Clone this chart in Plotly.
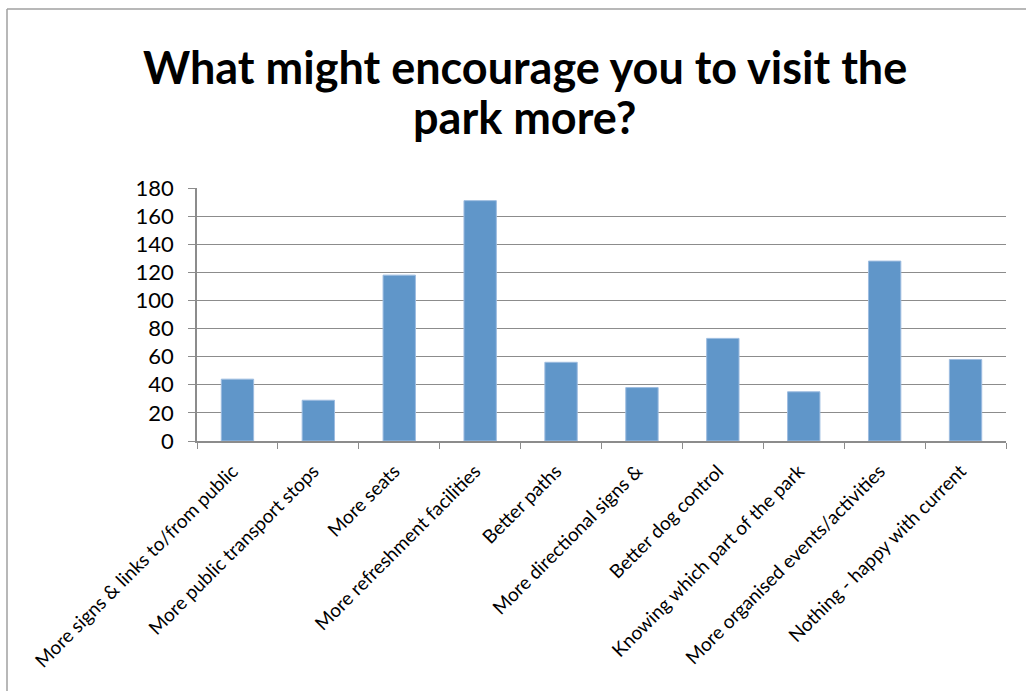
import plotly.graph_objects as go

categories = [
    "More signs & links to/from public",
    "More public transport stops",
    "More seats",
    "More refreshment facilities",
    "Better paths",
    "More directional signs &",
    "Better dog control",
    "Knowing which part of the park",
    "More organised events/activities",
    "Nothing - happy with current",
]
values = [44, 29, 118, 171, 56, 38, 73, 35, 128, 58]
y_ticks = [0, 20, 40, 60, 80, 100, 120, 140, 160, 180]
title_lines = ["What might encourage you to visit the", "park more?"]

W, H = 1026, 691
ML, MR, MT, MB = 197, 20, 188, 250
pw = W - ML - MR
ph = H - MT - MB


def px_x(x):
    return (x - ML) / pw


def px_y(y):
    return 1 + (MT - y) / ph


fig = go.Figure()
fig.add_trace(go.Bar(
    x=categories, y=values,
    marker=dict(color="#6096C9", line=dict(color="#9DBCE0", width=1)),
))

border = "#a0a0a0"
bx = px_x(7)
by = px_y(9)
fig.add_shape(type="line", xref="paper", yref="paper", x0=bx, x1=bx, y0=-2, y1=by,
              line=dict(color=border, width=1.5))
fig.add_shape(type="line", xref="paper", yref="paper", x0=bx, x1=2, y0=by, y1=by,
              line=dict(color=border, width=1.5))

for line, (cx, cy) in zip(title_lines, [(525, 67), (524, 117)]):
    fig.add_annotation(
        text="<b>" + line + "</b>", xref="paper", yref="paper",
        x=px_x(cx), y=px_y(cy), xanchor="center", yanchor="middle",
        showarrow=False, font=dict(family="Lato", size=45, color="black"),
    )

fig.update_layout(
    width=W, height=H,
    margin=dict(l=ML, r=MR, t=MT, b=MB, autoexpand=False),
    paper_bgcolor="white", plot_bgcolor="white",
    bargap=0.6,
    showlegend=False,
    font=dict(family="Lato", color="black"),
)
fig.update_xaxes(
    type="category", tickangle=-45, tickson="boundaries", automargin=False,
    ticks="outside", ticklen=6, tickcolor="#8c8c8c",
    ticklabelshift=-5, ticklabelstandoff=10,
    showline=True, linecolor="#8c8c8c", linewidth=1.5,
    showgrid=False, tickfont=dict(family="Lato", size=19, color="black"),
)
fig.update_yaxes(
    range=[0, 180], tickvals=y_ticks, ticks="outside", ticklen=7, tickcolor="#8c8c8c",
    ticklabelstandoff=10,
    showline=True, linecolor="#8c8c8c", linewidth=1.5, automargin=False,
    showgrid=True, gridcolor="#8c8c8c", gridwidth=1.2, zeroline=False,
    tickfont=dict(family="Lato", size=22, color="black"),
)

fig.write_html("out.html", config={"displayModeBar": False},
               post_script="document.body.style.margin='0';")
